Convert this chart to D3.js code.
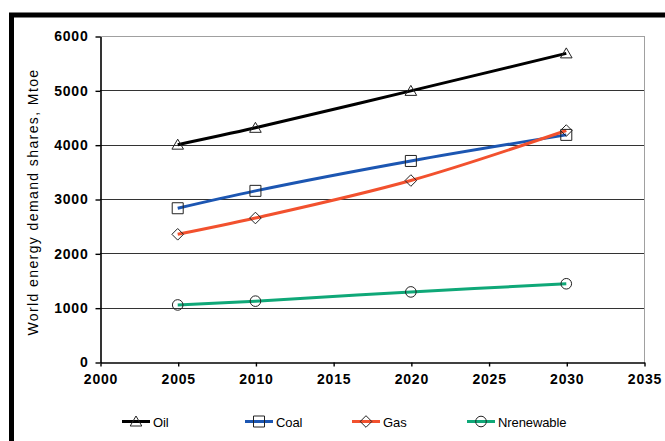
<!DOCTYPE html>
<html>
<head>
<meta charset="utf-8">
<script src="https://cdn.jsdelivr.net/npm/d3@7"></script>
<style>
  html, body { margin: 0; padding: 0; background: #fff; }
  svg { display: block; }
  text { font-family: Arial, "Liberation Sans", sans-serif; fill: #000; }
</style>
</head>
<body>
<svg id="chart" width="665" height="441"></svg>
<script>
// World energy demand by fuel, Mtoe
const years = [2005, 2010, 2020, 2030];
const oil = [4000, 4310, 4990, 5680];
const coal = [2830, 3150, 3700, 4180];
const gas = [2350, 2650, 3340, 4260];
const nrenewable = [1050, 1120, 1290, 1440];

const seriesNames = ["Oil", "Coal", "Gas", "Nrenewable"];
const xTicks = [2000, 2005, 2010, 2015, 2020, 2025, 2030, 2035];
const yTicks = [0, 1000, 2000, 3000, 4000, 5000, 6000];
const yTitle = "World energy demand shares, Mtoe";

// hollow marker shapes, centred on the point
const markerPath = {
  triangle: "M0,-5.5L5.8,4.5L-5.8,4.5Z",
  square: "M-5.5,-5.5H5.5V5.5H-5.5Z",
  diamond: "M0,-5.8L5.8,0L0,5.8L-5.8,0Z",
  circle: "M5.3,0A5.3,5.3,0,1,1,-5.3,0A5.3,5.3,0,1,1,5.3,0Z"
};

const series = [
  { name: seriesNames[0], values: oil, color: "#000000", marker: "triangle" },
  { name: seriesNames[1], values: coal, color: "#1c56b2", marker: "square" },
  { name: seriesNames[2], values: gas, color: "#f2512e", marker: "diamond" },
  { name: seriesNames[3], values: nrenewable, color: "#0fa878", marker: "circle" }
];

const svg = d3.select("#chart");

// outer frame
svg.append("rect")
  .attr("x", 11.5).attr("y", 15)
  .attr("width", 720).attr("height", 500)
  .attr("fill", "none").attr("stroke", "#000").attr("stroke-width", 5);

const x = d3.scaleLinear().domain([2000, 2035]).range([100, 644]);
const y = d3.scaleLinear().domain([0, 6000]).range([362, 36]);

// horizontal grid
svg.append("g")
  .selectAll("line")
  .data(yTicks.filter(v => v > 0))
  .join("line")
  .attr("x1", x(2000)).attr("x2", x(2035))
  .attr("y1", d => Math.round(y(d)) + 0.5).attr("y2", d => Math.round(y(d)) + 0.5)
  .attr("stroke", d => d === 6000 ? "#a0a0a0" : "#333")
  .attr("stroke-width", 1);

// right plot border
svg.append("line")
  .attr("x1", x(2035) + 0.5).attr("x2", x(2035) + 0.5)
  .attr("y1", y(6000)).attr("y2", y(0))
  .attr("stroke", "#a0a0a0");

// axes
const yAxis = svg.append("g")
  .attr("transform", `translate(${x(2000) + 0.5},0.5)`)
  .call(d3.axisLeft(y).tickValues(yTicks).tickSize(5).tickSizeOuter(0).tickPadding(7).tickFormat(d3.format("d")));

const xAxis = svg.append("g")
  .attr("transform", `translate(0.5,${y(0) + 0.5})`)
  .call(d3.axisBottom(x).tickValues(xTicks).tickSize(4).tickSizeOuter(0).tickPadding(8).tickFormat(d3.format("d")));

[yAxis, xAxis].forEach(ax => {
  ax.select(".domain").attr("stroke", "#000").attr("stroke-width", 1.6);
  ax.selectAll(".tick line").attr("stroke", "#000").attr("stroke-width", 1.4);
  ax.selectAll(".tick text")
    .attr("font-family", "Arial, 'Liberation Sans', sans-serif")
    .attr("font-size", 14).attr("font-weight", "bold")
    .attr("letter-spacing", "0.8px").attr("fill", "#000");
});

// y-axis title
svg.append("text")
  .attr("transform", `translate(38,${(y(0) + y(6000)) / 2 + 3}) rotate(-90)`)
  .attr("text-anchor", "middle")
  .attr("font-size", 14)
  .attr("letter-spacing", "1.4px")
  .text(yTitle);

// lines and markers
const line = d3.line()
  .x((d, i) => x(years[i]))
  .y(d => y(d))
  .curve(d3.curveCatmullRom.alpha(0.5));

const plot = svg.append("g");
series.forEach(s => {
  plot.append("path")
    .datum(s.values)
    .attr("d", line)
    .attr("fill", "none")
    .attr("stroke", s.color)
    .attr("stroke-width", 3)
    .attr("stroke-linejoin", "round");
});
series.forEach(s => {
  plot.append("g")
    .selectAll("path")
    .data(s.values)
    .join("path")
    .attr("transform", (d, i) => `translate(${x(years[i])},${y(d)})`)
    .attr("d", markerPath[s.marker])
    .attr("fill", "none")
    .attr("stroke", "#222")
    .attr("stroke-width", 1);
});

// legend
const legendX = [122, 245, 352, 467];
const legendY = 421.5;
const legend = svg.append("g")
  .selectAll("g")
  .data(series)
  .join("g")
  .attr("transform", (d, i) => `translate(${legendX[i]},${legendY})`);

legend.append("line")
  .attr("x1", 0).attr("x2", 28)
  .attr("stroke", d => d.color).attr("stroke-width", 3);
legend.append("path")
  .attr("transform", "translate(14,0)")
  .attr("d", d => markerPath[d.marker])
  .attr("fill", "none").attr("stroke", "#222").attr("stroke-width", 1);
legend.append("text")
  .attr("x", 31).attr("y", 5)
  .attr("font-size", 13)
  .attr("letter-spacing", "-0.1px")
  .text(d => d.name);
</script>
</body>
</html>
